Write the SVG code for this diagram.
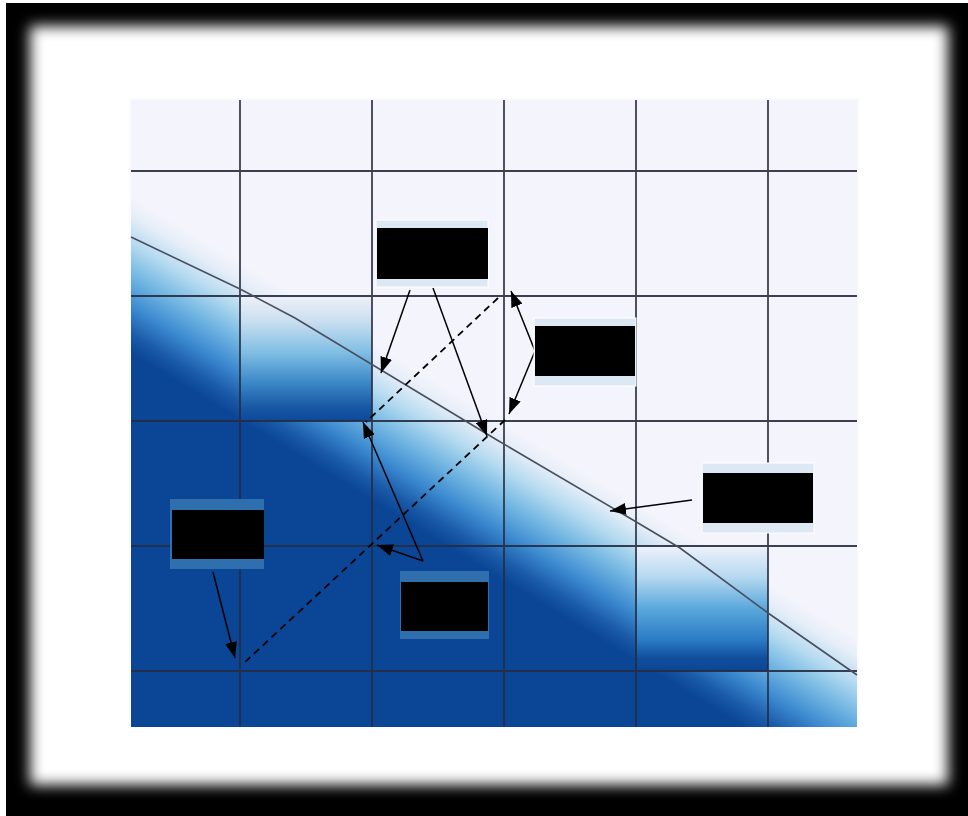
<svg xmlns="http://www.w3.org/2000/svg" width="968" height="816" viewBox="0 0 968 816">
<style>
.grid{stroke:#262c40;stroke-width:1.8;fill:none;opacity:0.9}
.curve{stroke:#4a4f60;stroke-width:1.6;fill:none}
.conn{stroke:#000;stroke-width:1.5;fill:none}
.dash{stroke:#000;stroke-width:1.8;fill:none;stroke-dasharray:7 5}
.lbl-light{fill:#dce8f4;stroke:#fff;stroke-width:1}
.lbl-dark{fill:#2f6fae}
.blk{fill:#000}
</style>
<defs>
<filter id="soft" x="-10%" y="-10%" width="120%" height="120%"><feGaussianBlur stdDeviation="7"/></filter>
<linearGradient id="band" gradientUnits="userSpaceOnUse" x1="529" y1="438" x2="459" y2="553">
<stop offset="0" stop-color="#f4f4fc"/>
<stop offset="0.12" stop-color="#e6eef8"/>
<stop offset="0.3" stop-color="#b4daf0"/>
<stop offset="0.5" stop-color="#72b6e2"/>
<stop offset="0.7" stop-color="#3c8ad0"/>
<stop offset="0.88" stop-color="#1a5aa8"/>
<stop offset="1" stop-color="#0a4695"/>
</linearGradient>
<linearGradient id="cellA" x1="0" y1="0" x2="0" y2="1">
<stop offset="0" stop-color="#eef0f8"/>
<stop offset="0.2" stop-color="#cadff0"/>
<stop offset="0.45" stop-color="#80bee4"/>
<stop offset="0.7" stop-color="#3a86c6"/>
<stop offset="0.9" stop-color="#1656a2"/>
<stop offset="1" stop-color="#0d4999"/>
</linearGradient>
<linearGradient id="cellB" x1="0" y1="0" x2="0" y2="1">
<stop offset="0" stop-color="#eef2fa"/>
<stop offset="0.25" stop-color="#b5d8f0"/>
<stop offset="0.5" stop-color="#5aa8dc"/>
<stop offset="0.75" stop-color="#2a7cc4"/>
<stop offset="0.9" stop-color="#104e9c"/>
<stop offset="1" stop-color="#0a4695"/>
</linearGradient>
<clipPath id="plot"><rect x="131" y="100" width="726" height="627"/></clipPath>
<marker id="ah" viewBox="0 0 16 12" markerWidth="16" markerHeight="12" refX="16" refY="6" orient="auto" markerUnits="userSpaceOnUse">
<path d="M0,0 L16,6 L0,12 z" fill="#000"/>
</marker>
</defs>

<!-- frame -->
<rect x="0" y="0" width="968" height="816" fill="#fff"/>
<rect x="6" y="3" width="962" height="813" fill="#000"/>
<rect x="30" y="26" width="918" height="759" fill="#fff" filter="url(#soft)"/>

<!-- plot background -->
<g id="plot-area">
<rect x="129" y="98" width="730" height="631" fill="#fbfbfe"/>
<g clip-path="url(#plot)">
<rect x="131" y="100" width="726" height="627" fill="url(#band)"/>
<rect x="240" y="296" width="132" height="125" fill="url(#cellA)"/>
<rect x="637" y="546" width="131" height="125" fill="url(#cellB)"/>
</g>
</g>

<!-- grid -->
<g id="grid" class="grid">
<line x1="240" y1="100" x2="240" y2="727"/>
<line x1="372" y1="100" x2="372" y2="727"/>
<line x1="504" y1="100" x2="504" y2="727"/>
<line x1="636" y1="100" x2="636" y2="727"/>
<line x1="768" y1="100" x2="768" y2="727"/>
<line x1="131" y1="171" x2="857" y2="171"/>
<line x1="131" y1="296" x2="857" y2="296"/>
<line x1="131" y1="421" x2="857" y2="421"/>
<line x1="131" y1="546" x2="857" y2="546"/>
<line x1="131" y1="671" x2="857" y2="671"/>
</g>

<!-- boundary curve -->
<polyline id="boundary" class="curve" points="131,237 240,289 295,318 497,440 633,520 680,548 768,613 857,675"/>

<!-- connectors -->
<g id="connectors">
<line class="dash" x1="498" y1="298" x2="366" y2="422"/>
<line class="dash" x1="505" y1="420" x2="244" y2="663"/>
<line class="conn" x1="410" y1="290" x2="381" y2="373" marker-end="url(#ah)"/>
<line class="conn" x1="433" y1="288" x2="487" y2="436" marker-end="url(#ah)"/>
<line class="conn" x1="535" y1="351" x2="511" y2="291" marker-end="url(#ah)"/>
<line class="conn" x1="535" y1="351" x2="509" y2="414" marker-end="url(#ah)"/>
<line class="conn" x1="692" y1="500" x2="610" y2="511" marker-end="url(#ah)"/>
<line class="conn" x1="213" y1="572" x2="235" y2="658" marker-end="url(#ah)"/>
<line class="conn" x1="423" y1="561" x2="363" y2="422" marker-end="url(#ah)"/>
<line class="conn" x1="423" y1="561" x2="377" y2="545" marker-end="url(#ah)"/>
</g>

<!-- label nodes -->
<g id="label1"><rect class="lbl-light" x="376" y="220" width="112" height="67"/><rect class="blk" x="377" y="228" width="111" height="51"/></g>
<g id="label2"><rect class="lbl-light" x="534" y="318" width="102" height="68"/><rect class="blk" x="535" y="326" width="100" height="50"/></g>
<g id="label3"><rect class="lbl-light" x="702" y="463" width="112" height="70"/><rect class="blk" x="703" y="473" width="110" height="50"/></g>
<g id="label4"><rect class="lbl-dark" x="170" y="499" width="94" height="70"/><rect class="blk" x="172" y="510" width="92" height="49"/></g>
<g id="label5"><rect class="lbl-dark" x="400" y="571" width="89" height="68"/><rect class="blk" x="401" y="582" width="87" height="49"/></g>
</svg>
